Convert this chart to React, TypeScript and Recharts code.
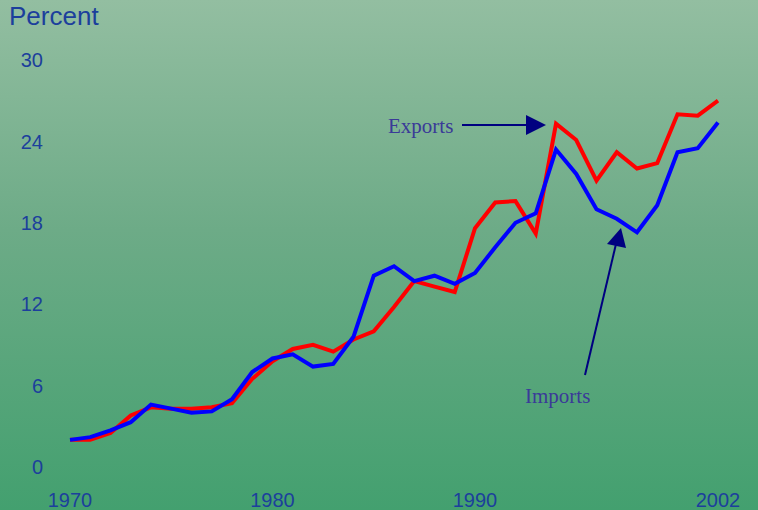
import { Line, LineChart, XAxis, YAxis } from 'recharts';

const years = [
  1970, 1971, 1972, 1973, 1974, 1975, 1976, 1977, 1978, 1979,
  1980, 1981, 1982, 1983, 1984, 1985, 1986, 1987, 1988, 1989,
  1990, 1991, 1992, 1993, 1994, 1995, 1996, 1997, 1998, 1999,
  2000, 2001, 2002,
];

const exportsPct = [
  2.0, 2.0, 2.5, 3.8, 4.4, 4.3, 4.3, 4.4, 4.7, 6.5,
  7.8, 8.7, 9.0, 8.5, 9.4, 10.0, 11.8, 13.7, 13.3, 12.9,
  17.6, 19.5, 19.6, 17.2, 25.3, 24.1, 21.1, 23.2, 22.0, 22.4,
  26.0, 25.9, 27.0,
];

const importsPct = [
  2.0, 2.2, 2.7, 3.3, 4.6, 4.3, 4.0, 4.1, 5.0, 7.0,
  8.0, 8.3, 7.4, 7.6, 9.6, 14.1, 14.8, 13.7, 14.1, 13.5,
  14.3, 16.2, 18.0, 18.7, 23.4, 21.6, 19.0, 18.3, 17.3, 19.3,
  23.2, 23.5, 25.4,
];

const xTicks = [1970, 1980, 1990, 2002];
const yTicks = [0, 6, 12, 18, 24, 30];

const data = years.map((year, i) => ({
  year,
  exports: exportsPct[i],
  imports: importsPct[i],
}));

const AXIS_COLOR = '#1c3f9c';
const NOTE_COLOR = '#3a3a98';
const ARROW_COLOR = '#000080';
const SANS = '"Liberation Sans", Arial, sans-serif';
const SERIF = '"Liberation Serif", "Times New Roman", serif';

export default function App() {
  return (
    <div
      style={{
        position: 'relative',
        width: 758,
        height: 510,
        background: 'linear-gradient(to bottom, #93bea1 0%, #6dab87 45%, #43a06f 100%)',
        fontFamily: SANS,
      }}
    >
      <style>{`body{margin:0}`}</style>
      <div
        style={{
          position: 'absolute',
          left: 9,
          top: 1,
          fontSize: 26,
          color: AXIS_COLOR,
        }}
      >
        Percent
      </div>
      <LineChart
        width={758}
        height={510}
        data={data}
        margin={{ top: 60, right: 40, bottom: 3, left: 10 }}
      >
        <XAxis
          dataKey="year"
          type="number"
          domain={[1970, 2002]}
          ticks={xTicks}
          axisLine={false}
          tickLine={false}
          tickMargin={20}
          height={40}
          tick={{ fill: AXIS_COLOR, fontSize: 20, fontFamily: SANS }}
        />
        <YAxis
          domain={[0, 30]}
          ticks={yTicks}
          axisLine={false}
          tickLine={false}
          tickMargin={21}
          width={60}
          tick={{ fill: AXIS_COLOR, fontSize: 20, fontFamily: SANS }}
        />
        <Line
          type="linear"
          dataKey="exports"
          stroke="#ff0000"
          strokeWidth={4}
          dot={false}
          isAnimationActive={false}
        />
        <Line
          type="linear"
          dataKey="imports"
          stroke="#0000ff"
          strokeWidth={4}
          dot={false}
          isAnimationActive={false}
        />
      </LineChart>
      <svg
        width={758}
        height={510}
        style={{ position: 'absolute', left: 0, top: 0, pointerEvents: 'none' }}
      >
        <text x={388} y={133} fontFamily={SERIF} fontSize={21} fill={NOTE_COLOR}>
          Exports
        </text>
        <line x1={462} y1={125} x2={528} y2={125} stroke={ARROW_COLOR} strokeWidth={2} />
        <polygon points="526,115 546,125 526,135" fill={ARROW_COLOR} />
        <text x={525} y={403} fontFamily={SERIF} fontSize={21} fill={NOTE_COLOR}>
          Imports
        </text>
        <line x1={585} y1={375} x2={616} y2={244} stroke={ARROW_COLOR} strokeWidth={2} />
        <polygon points="621,228 607,244 626,248" fill={ARROW_COLOR} />
      </svg>
    </div>
  );
}
